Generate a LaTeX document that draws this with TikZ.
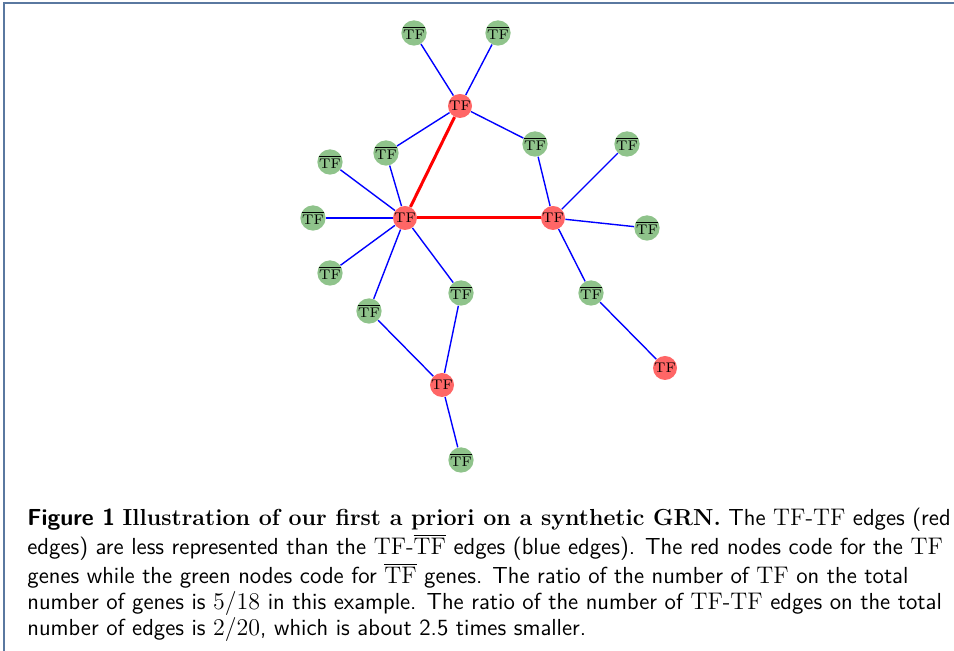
\documentclass[tikz,border=0pt]{standalone}
\usepackage{amsmath}
\usepackage{tikz}
\definecolor{tfred}{RGB}{255,102,102}
\definecolor{ntfgreen}{RGB}{143,195,139}
\definecolor{framecol}{RGB}{90,120,160}
\newcommand{\tfm}{\ensuremath{\mathrm{TF}}}
\newcommand{\ntfm}{\ensuremath{\overline{\mathrm{TF}}}}

\begin{document}
\begin{tikzpicture}[x=0.5pt, y=-0.5pt, every
		node/.style={inner sep=0pt}, 
		tf/.style={circle, fill=tfred, minimum size=12pt, font=\fontsize{7}{7}\selectfont},
		ntf/.style={tf, fill=ntfgreen},
		bl/.style={draw=blue, line width=0.7pt},
		rd/.style={draw=red, line width=1.5pt}]
		\useasboundingbox (0,0) rectangle (954,651);
		\draw[framecol, line width=1pt] (4,651) -- (4,3) -- (954,3);
		
		% TF genes
		\node[tf] (tt) at (460, 106) {\tfm};
		\node[tf] (tl) at (405, 218) {\tfm};
		\node[tf] (tr) at (553, 218) {\tfm};
		\node[tf] (tb) at (442, 385) {\tfm};
		\node[tf] (tf) at (665, 368) {\tfm};
		
		% non TF genes
		\node[ntf] (g1) at (414, 33) {\ntfm};
		\node[ntf] (g2) at (498, 33) {\ntfm};
		\node[ntf] (g3) at (386, 153) {\ntfm};
		\node[ntf] (g4) at (535, 144) {\ntfm};
		\node[ntf] (g5) at (330, 162) {\ntfm};
		\node[ntf] (g6) at (313, 218) {\ntfm};
		\node[ntf] (g7) at (330, 273) {\ntfm};
		\node[ntf] (g8) at (369, 311) {\ntfm};
		\node[ntf] (g9) at (461, 293) {\ntfm};
		\node[ntf] (g10) at (627, 144) {\ntfm};
		\node[ntf] (g11) at (647, 228) {\ntfm};
		\node[ntf] (g12) at (591, 293) {\ntfm};
		\node[ntf] (g13) at (461, 460) {\ntfm};
		
		\draw[rd] (tt) -- (tl);
		\draw[rd] (tl) -- (tr);
		
		\draw[bl] (g1) -- (tt);
		\draw[bl] (g2) -- (tt);
		\draw[bl] (g3) -- (tt);
		\draw[bl] (g4) -- (tt);
		\draw[bl] (g3) -- (tl);
		\draw[bl] (g5) -- (tl);
		\draw[bl] (g6) -- (tl);
		\draw[bl] (g7) -- (tl);
		\draw[bl] (g8) -- (tl);
		\draw[bl] (g9) -- (tl);
		\draw[bl] (g4) -- (tr);
		\draw[bl] (g10) -- (tr);
		\draw[bl] (g11) -- (tr);
		\draw[bl] (g12) -- (tr);
		\draw[bl] (g8) -- (tb);
		\draw[bl] (g9) -- (tb);
		\draw[bl] (g13) -- (tb);
		\draw[bl] (g12) -- (tf);
		
		\node[anchor=base west, align=left, font=\sffamily\fontsize{11.6}{13}\selectfont] (cap) at (27, 636)
		{\textbf{Figure 1} {\rmfamily\bfseries Illustration of our first a priori on a synthetic GRN.} The \tfm-\tfm{} edges (red\\
			edges) are less represented than the \tfm-\ntfm{} edges (blue edges). The red nodes code for the \tfm\\
			genes while the green nodes code for \ntfm{} genes. The ratio of the number of \tfm{} on the total\\
			number of genes is $5/18$ in this example. The ratio of the number of \tfm-\tfm{} edges on the total\\
			number of edges is $2/20$, which is about 2.5 times smaller.};
		
	\end{tikzpicture}
\end{document}
